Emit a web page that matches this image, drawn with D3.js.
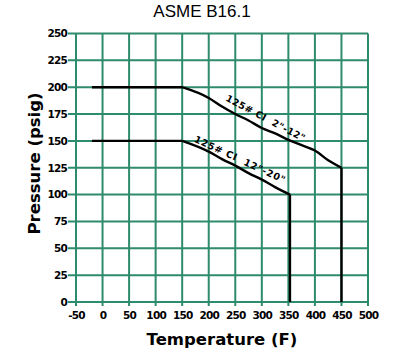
<!DOCTYPE html>
<meta charset="utf-8">
<script src="https://d3js.org/d3.v7.min.js"></script>
<style>
  body { margin: 0; background: #fff; }
</style>
<div id="my_dataviz"></div>
<script>
// pressure-temperature ratings, class 125 cast iron
var temps_small = [-20, 150, 200, 225, 250, 275, 300, 325, 350, 375, 400, 425, 450, 450];
var press_small = [200, 200, 190, 182, 175, 169, 162, 157, 151, 146, 141, 132, 125, 0];

var temps_large = [-20, 150, 200, 225, 250, 275, 300, 325, 353, 353];
var press_large = [150, 150, 140, 133, 127, 120, 114, 107, 100, 0];

var x_ticks = [-50, 0, 50, 100, 150, 200, 250, 300, 350, 400, 450, 500];
var y_ticks = [0, 25, 50, 75, 100, 125, 150, 175, 200, 225, 250];

var width = 397, height = 354;
var margin = {top: 33.5, right: 29, bottom: 52, left: 76};

var svg = d3.select("#my_dataviz")
  .append("svg")
    .attr("width", width)
    .attr("height", height);

var x = d3.scaleLinear().domain([-50, 500]).range([margin.left, width - margin.right]);
var y = d3.scaleLinear().domain([0, 250]).range([height - margin.bottom, margin.top]);

var grid = "#2e8b6b";

// title
svg.append("text")
  .attr("x", 202).attr("y", 17)
  .attr("text-anchor", "middle")
  .style("font-family", "Liberation Sans, Arial, sans-serif")
  .style("font-size", "17px")
  .text("ASME B16.1");

// grid lines
svg.selectAll(".vgrid")
  .data(x_ticks)
  .enter().append("line")
    .attr("x1", function(d) { return x(d); })
    .attr("x2", function(d) { return x(d); })
    .attr("y1", y(250))
    .attr("y2", y(0) + 4)
    .attr("stroke", grid)
    .attr("stroke-width", 2);

svg.selectAll(".hgrid")
  .data(y_ticks)
  .enter().append("line")
    .attr("x1", x(-50) - 8)
    .attr("x2", x(500))
    .attr("y1", function(d) { return y(d); })
    .attr("y2", function(d) { return y(d); })
    .attr("stroke", grid)
    .attr("stroke-width", 2);

// axes (labels only, lines drawn by the grid)
var fmt = function(d) { return String(d); };

var xAxis = svg.append("g")
  .attr("transform", "translate(0," + (y(0) + 4) + ")")
  .call(d3.axisBottom(x).tickValues(x_ticks).tickFormat(fmt).tickSize(0).tickPadding(6));

var yAxis = svg.append("g")
  .attr("transform", "translate(" + (x(-50) - 8) + ",0)")
  .call(d3.axisLeft(y).tickValues(y_ticks).tickFormat(fmt).tickSize(0).tickPadding(1));

[xAxis, yAxis].forEach(function(a) {
  a.select(".domain").remove();
  a.selectAll("text")
    .attr("fill", "#000")
    .style("font-family", "DejaVu Sans, sans-serif")
    .style("font-weight", "bold")
    .style("font-size", "10.5px")
    .style("letter-spacing", "-0.8px");
});

// curves
var line = d3.line()
  .x(function(d) { return x(d[0]); })
  .y(function(d) { return y(d[1]); })
  .curve(d3.curveMonotoneX);

var lineStraight = d3.line()
  .x(function(d) { return x(d[0]); })
  .y(function(d) { return y(d[1]); });

function drawCurve(t, p) {
  var pts = d3.zip(t, p);
  var n = pts.length;
  // sloped part smooth, final vertical drop straight
  svg.append("path")
    .datum(pts.slice(1, n - 1))
    .attr("d", line)
    .attr("fill", "none")
    .attr("stroke", "#000")
    .attr("stroke-width", 2.4)
    .attr("stroke-linejoin", "round");
  svg.append("path")
    .datum([pts[0], pts[1]])
    .attr("d", lineStraight)
    .attr("fill", "none")
    .attr("stroke", "#000")
    .attr("stroke-width", 2.4);
  svg.append("path")
    .datum([pts[n - 2], pts[n - 1]])
    .attr("d", lineStraight)
    .attr("fill", "none")
    .attr("stroke", "#000")
    .attr("stroke-width", 2.4);
}
drawCurve(temps_small, press_small);
drawCurve(temps_large, press_large);

// curve labels
function curveLabel(t, p, angle, len, txt) {
  svg.append("text")
    .attr("transform", "translate(" + x(t) + "," + y(p) + ") rotate(" + angle + ")")
    .attr("text-anchor", "middle")
    .attr("textLength", len)
    .attr("lengthAdjust", "spacing")
    .style("font-family", "DejaVu Sans, sans-serif")
    .style("font-weight", "bold")
    .style("font-size", "9.5px")
    .style("white-space", "pre")
    .text(txt);
}
curveLabel(304, 168.5, 28, 88, "125# CI  2\"-12\"");
curveLabel(256, 130, 25, 99, "125# CI  12\"-20\"");

// axis titles
svg.append("text")
  .attr("x", x(225)).attr("y", 345)
  .attr("text-anchor", "middle")
  .style("font-family", "DejaVu Sans, sans-serif")
  .style("font-weight", "bold")
  .style("font-size", "16.5px")
  .text("Temperature (F)");

svg.append("text")
  .attr("transform", "translate(40," + y(129) + ") rotate(-90)")
  .attr("text-anchor", "middle")
  .style("font-family", "DejaVu Sans, sans-serif")
  .style("font-weight", "bold")
  .style("font-size", "16.5px")
  .text("Pressure (psig)");
</script>
